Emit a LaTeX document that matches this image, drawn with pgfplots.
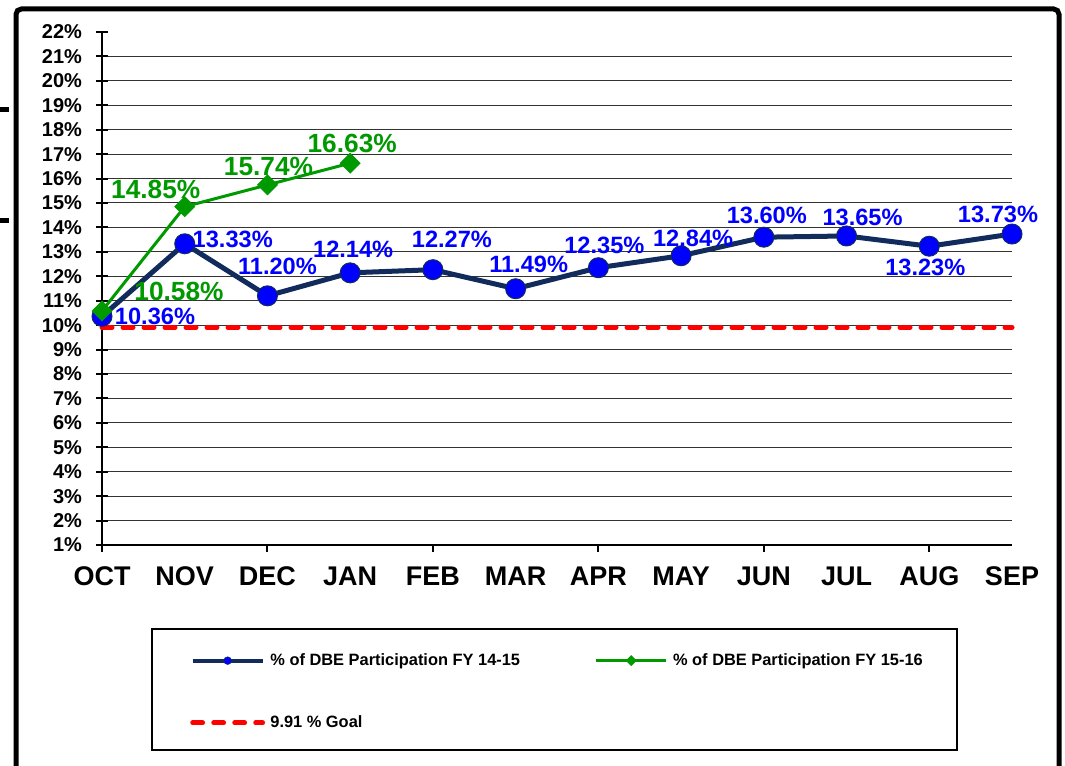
\documentclass[border=0pt]{standalone}
\usepackage{pgfplots}
\pgfplotsset{compat=1.18}
\usepackage{pgfplotstable}
\usepackage{fontspec}
\setmainfont{Liberation Sans}
\definecolor{navy}{HTML}{112B5C}
\definecolor{dgreen}{RGB}{0,153,0}
\definecolor{lblue}{RGB}{0,0,255}

\pgfplotstableread{
x y dx dy
0 10.36 39.75 0
1 13.33 36 3
2 11.20 7.5 21.75
3 12.14 2.25 18
4 12.27 14.25 22.5
5 11.49 9.75 18
6 12.35 4.5 16.5
7 12.84 9 12.75
8 13.60 2.25 16.5
9 13.65 12 14.25
10 13.23 -3 -15.75
11 13.73 -10.5 14.6
}\bluedata

\pgfplotstableread{
x y dx dy
0 10.58 57.75 15
1 14.85 -21.75 12.75
2 15.74 0.75 13.5
3 16.63 1.5 15
}\greendata

\pgfplotstableread{
x y
0 9.91
11 9.91
}\goaldata

\begin{document}
\begin{tikzpicture}[x=0.75pt,y=0.75pt]
\path[use as bounding box] (0,0) rectangle (1065,766);
\draw[line width=3.75pt, rounded corners=4pt] (16,-20) -- (16,757) -- (1059,757) -- (1059,-20);
\draw[line width=3.75pt] (0,656.5) -- (9,656.5);
\draw[line width=3.75pt] (0,545.5) -- (9,545.5);
\draw[line width=1.5pt] (152,137) rectangle (957,16);
\begin{axis}[
  at={(76.5pt,165.75pt)}, anchor=south west,
  scale only axis, width=682.5pt, height=384.75pt,
  xmin=0, xmax=11, ymin=1, ymax=22,
  clip=false,
  axis lines=left,
  axis line style={-, line width=1.5pt, black},
  x axis line style={-}, y axis line style={-},
  /pgf/number format/assume math mode=true,
  major tick length=0pt,
  xtick={0,...,11},
  xticklabels={OCT,NOV,DEC,JAN,FEB,MAR,APR,MAY,JUN,JUL,AUG,SEP},
  xticklabel style={font=\fontsize{20.25pt}{24pt}\selectfont\bfseries, anchor=north, yshift=-13pt},
  ytick={2,...,21},
  yticklabels={},
  ymajorgrids=true,
  major grid style={black!80, line width=0.75pt},
  extra x ticks={0,2,...,10},
  extra x tick labels={},
  extra x tick style={major tick length=5.25pt, tick align=outside, grid=none, tick style={black, line width=1.5pt}},
  extra y ticks={1,...,22},
  extra y tick labels={1\%,2\%,3\%,4\%,5\%,6\%,7\%,8\%,9\%,10\%,11\%,12\%,13\%,14\%,15\%,16\%,17\%,18\%,19\%,20\%,21\%,22\%},
  extra y tick style={major tick length=9pt, tick align=center, grid=none, tick style={black, line width=1.5pt},
     yticklabel style={font=\fontsize{15pt}{18pt}\selectfont\bfseries, anchor=east, xshift=-7pt}},
  legend columns=2,
  legend cell align=left,
  legend style={draw=none, fill=none, at={(0.0923,-0.201)}, anchor=north west,
     font=\fontsize{12.3pt}{14pt}\selectfont\bfseries,
     nodes={inner xsep=4pt},
     /tikz/every even column/.append style={column sep=52pt},
     row sep=32.25pt},
]
\addplot[navy, line width=3.75pt, mark=*, mark size=7.5pt,
  mark options={fill=lblue, draw=navy, line width=0.75pt},
  nodes near coords, point meta=y,
  nodes near coords={\pgfmathprintnumber[fixed,fixed zerofill,precision=2]{\pgfplotspointmeta}\%},
  visualization depends on={\thisrow{dx}\as\dx},
  visualization depends on={\thisrow{dy}\as\dy},
  nodes near coords style={anchor=center, xshift={\dx*1pt}, yshift={\dy*1pt}, text=lblue,
     font=\fontsize{17.7pt}{20pt}\selectfont\bfseries, inner sep=0pt},
  legend image code/.code={
    \draw[navy, line width=3pt] (0pt,0pt) -- (52.5pt,0pt);
    \draw[navy, fill=lblue, line width=0.4pt] (26.25pt,0pt) circle (2.9pt);}
] table[x=x,y=y] {\bluedata};
\addlegendentry{\% of DBE Participation FY 14-15}
\addplot[dgreen, line width=2.25pt, mark=square*, mark size=5.3pt,
  mark options={rotate=45, fill=dgreen, draw=dgreen, line width=0.5pt},
  nodes near coords, point meta=y,
  nodes near coords={\pgfmathprintnumber[fixed,fixed zerofill,precision=2]{\pgfplotspointmeta}\%},
  visualization depends on={\thisrow{dx}\as\dx},
  visualization depends on={\thisrow{dy}\as\dy},
  nodes near coords style={anchor=center, xshift={\dx*1pt}, yshift={\dy*1pt}, text=dgreen,
     font=\fontsize{19.7pt}{22pt}\selectfont\bfseries, inner sep=0pt},
  legend image code/.code={
    \draw[dgreen, line width=2.25pt] (0pt,0pt) -- (52.5pt,0pt);
    \fill[dgreen] (26.25pt,2.6pt) -- (28.85pt,0pt) -- (26.25pt,-2.6pt) -- (23.65pt,0pt) -- cycle;}
] table[x=x,y=y] {\greendata};
\addlegendentry{\% of DBE Participation FY 15-16}
\addplot[red, line width=3.75pt, line cap=round, dash pattern=on 7.5pt off 8.25pt, mark=none,
  legend image code/.code={
    \draw[red, line width=3.6pt, line cap=round, dash pattern=on 7.5pt off 8.25pt] (0pt,0pt) -- (52.5pt,0pt);}
] table[x=x,y=y] {\goaldata};
\addlegendentry{9.91 \% Goal}
\end{axis}
\end{tikzpicture}
\end{document}
